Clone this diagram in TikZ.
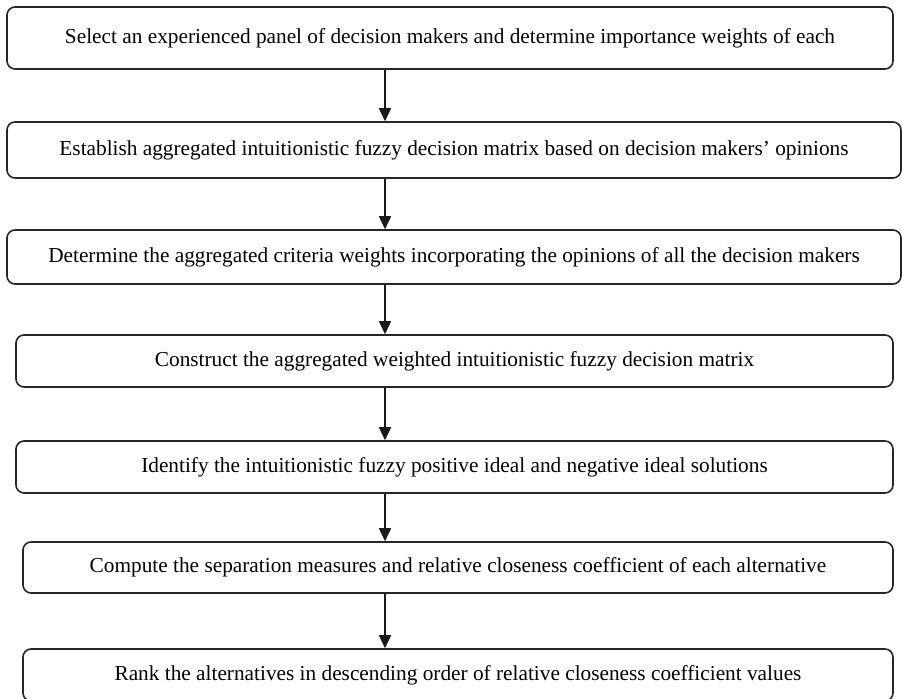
\documentclass[tikz,border=0pt]{standalone}
\usepackage{fontspec}
\setmainfont{Liberation Serif}
\usepackage{tikz}
\usetikzlibrary{arrows.meta,calc}

\begin{document}
\begin{tikzpicture}[x=0.5pt, y=-0.5pt, ->, >={Triangle[length=6.5pt,width=6pt]},
                semithick, font=\fontsize{10.65}{12.8}\selectfont,
                step box/.style={draw=black!85, line width=0.8pt, rounded corners=4pt,
                                 inner sep=0pt, align=center},
                link/.style={draw=black!90, line width=0.8pt, shorten >=0pt}]
		\useasboundingbox (0,0) rectangle (902,698);
		\clip (0,0) rectangle (902,698);
		\begin{scope}
			\node [step box, minimum width=443pt, minimum height=31pt] (s1) at (450,38)
				{Select an experienced panel of decision makers and determine importance weights of each};
			\node [step box, minimum width=447pt, minimum height=28pt] (s2) at (454,150)
				{Establish aggregated intuitionistic fuzzy decision matrix based on decision makers' opinions};
			\node [step box, minimum width=447pt, minimum height=27pt] (s3) at (454,257)
				{Determine the aggregated criteria weights incorporating the opinions of all the decision makers};
			\node [step box, minimum width=438.5pt, minimum height=26pt] (s4) at (454.5,361)
				{Construct the aggregated weighted intuitionistic fuzzy decision matrix};
			\node [step box, minimum width=438.5pt, minimum height=26pt] (s5) at (454.5,467)
				{Identify the intuitionistic fuzzy positive ideal and negative ideal solutions};
			\node [step box, minimum width=435pt, minimum height=25.5pt] (s6) at (458,567.5)
				{Compute the separation measures and relative closeness coefficient of each alternative};
			\node [step box, minimum width=435pt, minimum height=26pt] (s7) at (458,675)
				{Rank the alternatives in descending order of relative closeness coefficient values};

			\coordinate (ax) at (385,0);
			\foreach \a/\b in {s1/s2,s2/s3,s3/s4,s4/s5,s5/s6,s6/s7}
				\draw [link] (\a.south -| ax) -- (\b.north -| ax);
		\end{scope}
		\end{tikzpicture}
\end{document}
